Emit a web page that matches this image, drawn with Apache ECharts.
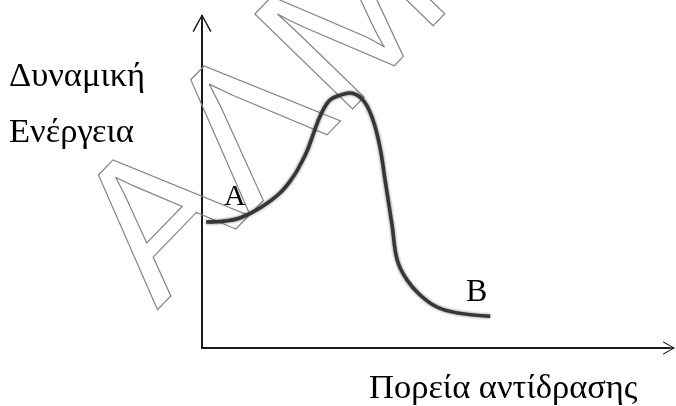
<!DOCTYPE html>
<html>
<head>
<meta charset="utf-8">
<script src="https://cdn.jsdelivr.net/npm/echarts@6/dist/echarts.min.js"></script>
<style>
  html, body { margin: 0; padding: 0; background: #fff; }
  #chart { width: 676px; height: 406px; }
</style>
</head>
<body>
<div id="chart"></div>
<script>
// reaction progress (x) and potential energy (y), 0-100 scale
var progress = [0.9, 4.9, 8.1, 12.4, 16.7, 19.5, 21.0, 22.5, 24.0, 25.5, 27.4, 29.6, 31.7, 34.5, 36.6, 38.1, 39.2, 40.7, 41.8, 43.9, 46.7, 50.3, 54.6, 61.7];
var energy   = [38.8, 39.1, 40.0, 43.1, 47.7, 52.6, 56.3, 60.6, 66.5, 72.0, 76.3, 77.8, 78.5, 76.3, 70.2, 61.8, 51.7, 37.8, 27.1, 20.9, 16.3, 12.6, 10.8, 9.8];

var yTitle = ['Δυναμική', 'Ενέργεια'];
var xTitle = 'Πορεία αντίδρασης';
var startLabel = 'A';
var endLabel = 'B';
var watermark = 'ΑΛΜ';

var curve = [];
for (var i = 0; i < progress.length; i++) {
    curve.push([progress[i], energy[i]]);
}

// open chevron arrow with a short stem, pointing up
var chevron = 'path://M10,0 L20,18 L18.6,18.7 L10,2.8 L1.4,18.7 L0,18 Z M9,1 L11,1 L11,18 L9,18 Z';
var serif = '"Liberation Serif", "DejaVu Serif", serif';

var myChart = echarts.init(document.getElementById('chart'));

var option = {
    backgroundColor: '#fff',
    animation: false,
    grid: { left: 202, right: 7, top: 23, bottom: 58 },
    xAxis: {
        type: 'value', min: 0, max: 100,
        axisLine: {
            show: true,
            lineStyle: { color: '#1a1a1a', width: 2 },
            symbol: ['none', chevron],
            symbolSize: [21, 12]
        },
        axisTick: { show: false },
        axisLabel: { show: false },
        splitLine: { show: false }
    },
    yAxis: {
        type: 'value', min: 0, max: 100,
        axisLine: {
            show: true,
            onZero: false,
            lineStyle: { color: '#1a1a1a', width: 2 },
            symbol: ['none', chevron],
            symbolSize: [19, 18]
        },
        axisTick: { show: false },
        axisLabel: { show: false },
        splitLine: { show: false }
    },
    series: [{
        type: 'line',
        data: curve,
        smooth: 0.4,
        symbol: 'none',
        lineStyle: {
            color: '#363636',
            width: 3.5,
            shadowBlur: 3,
            shadowColor: 'rgba(0,0,0,0.6)'
        },
        z: 3
    }],
    graphic: [
        {
            type: 'text', x: 118, y: 272, rotation: 0.80, z: 1,
            style: {
                text: watermark,
                font: '198px "Liberation Sans", Arial, sans-serif',
                fill: 'none', stroke: '#858585', lineWidth: 1.2,
                textAlign: 'left', textVerticalAlign: 'middle'
            }
        },
        {
            type: 'text', x: 9, y: 77, z: 5,
            style: { text: yTitle[0], font: '34.5px ' + serif, fill: '#000', textVerticalAlign: 'middle' }
        },
        {
            type: 'text', x: 9, y: 133, z: 5,
            style: { text: yTitle[1], font: '34.5px ' + serif, fill: '#000', textVerticalAlign: 'middle' }
        },
        {
            type: 'text', x: 224, y: 197, z: 5,
            style: { text: startLabel, font: '30px ' + serif, fill: '#000', textVerticalAlign: 'middle' }
        },
        {
            type: 'text', x: 466, y: 293, z: 5,
            style: { text: endLabel, font: '32px ' + serif, fill: '#000', textVerticalAlign: 'middle' }
        },
        {
            type: 'text', x: 369, y: 389, z: 5,
            style: { text: xTitle, font: '34.5px ' + serif, fill: '#000', textVerticalAlign: 'middle' }
        }
    ]
};

myChart.setOption(option);
</script>
</body>
</html>
